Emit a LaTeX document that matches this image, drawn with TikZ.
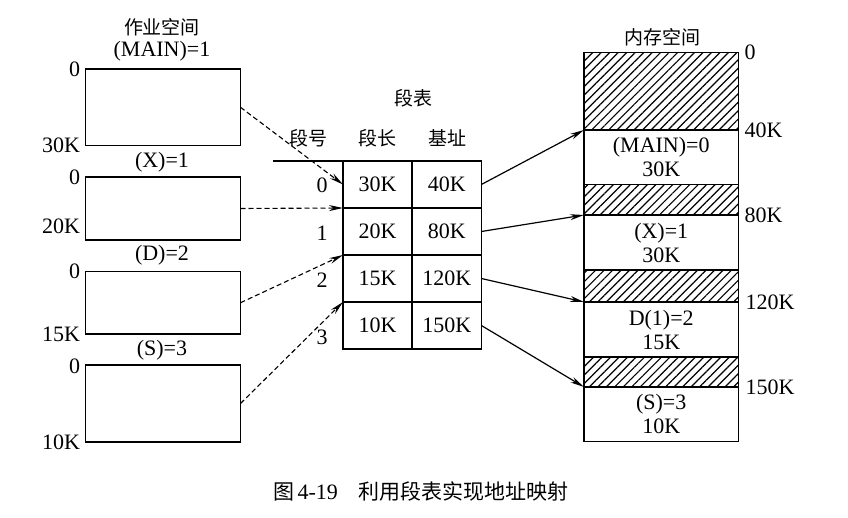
\documentclass[tikz,border=0pt]{standalone}
\usepackage{fontspec}
\setmainfont{Liberation Serif}
\newfontfamily\cjk{Noto Sans CJK SC}
\usetikzlibrary{arrows.meta,patterns.meta}
\begin{document}
\begin{tikzpicture}[x=0.5pt,y=-0.5pt,
  font=\fontsize{11}{12}\selectfont,
  every node/.style={inner sep=0pt, outer sep=0pt},
  cn/.style={font=\cjk\fontsize{9.5}{11}\selectfont},
  jobbox/.style={draw, line width=0.9pt, minimum width=77.5pt},
  cell/.style={draw, line width=0.9pt, minimum width=34.6pt, minimum height=23.5pt},
  memw/.style={draw, line width=0.9pt, minimum width=77.25pt, align=center, font=\fontsize{11}{12}\selectfont},
  memh/.style={draw, line width=0.9pt, minimum width=77.25pt,
     pattern={Lines[angle=45,distance=3.0pt,line width=0.6pt]}},
  dasharr/.style={line width=0.55pt, dash pattern=on 2.5pt off 1.5pt, -{Stealth[length=7pt,width=3pt]}},
  solarr/.style={line width=0.6pt, -{Stealth[length=7pt,width=3pt]}}
]
\useasboundingbox (0,0) rectangle (848,518);

% ---------- job space ----------
\node[cn] (t1) at (162,27) {作业空间};
\node (n1) at (162,51.5) {(MAIN)=1};
\node[jobbox, minimum height=38.25pt] (b1) at (163,107.3) {};
\node (n2) at (162,162) {(X)=1};
\node[jobbox, minimum height=31.5pt] (b2) at (163,208.5) {};
\node (n3) at (162,255) {(D)=2};
\node[jobbox, minimum height=31.25pt] (b3) at (163,302.75) {};
\node (n4) at (162,350) {(S)=3};
\node[jobbox, minimum height=38.5pt] (b4) at (163,403.5) {};

\node[anchor=east] (a1) at ([xshift=-2.75pt]b1.north west) {0};
\node[anchor=east] (z1) at ([xshift=-2.75pt]b1.south west) {30K};
\node[anchor=east] (a2) at ([xshift=-2.75pt]b2.north west) {0};
\node[anchor=east] (z2) at ([xshift=-2.75pt,yshift=7pt]b2.south west) {20K};
\node[anchor=east] (a3) at ([xshift=-2.75pt]b3.north west) {0};
\node[anchor=east] (z3) at ([xshift=-2.75pt]b3.south west) {15K};
\node[anchor=east] (a4) at ([xshift=-2.75pt,yshift=-0.8pt]b4.north west) {0};
\node[anchor=east] (z4) at ([xshift=-2.75pt]b4.south west) {10K};

% ---------- segment table ----------
\node[cn] (st) at (413,98) {段表};
\node[cn] (h0) at (308,138) {段号};
\node[cn] (h1) at (377.5,138) {段长};
\node[cn] (h2) at (447,138) {基址};

\node[cell] (c00) at (377.6,184.5) {30K};
\node[cell] (c01) at (446.8,184.5) {40K};
\node[cell] (c10) at (377.6,231.5) {20K};
\node[cell] (c11) at (446.8,231.5) {80K};
\node[cell] (c20) at (377.6,278.5) {15K};
\node[cell] (c21) at (446.8,278.5) {120K};
\node[cell] (c30) at (377.6,325.5) {10K};
\node[cell] (c31) at (446.8,325.5) {150K};

\node (r0) at (322,185) {0};
\node (r1) at (322,233) {1};
\node (r2) at (322,280) {2};
\node (r3) at (322,337) {3};

\coordinate (tl) at (273,161);
\draw[line width=0.6pt] (tl) -- (c00.north west);

% ---------- memory space ----------
\node[cn] (mt) at (662,37) {内存空间};
\node[memh, minimum height=38.75pt] (hh0) at (661.25,91.25) {};
\node[memw, minimum height=27.25pt] (m0) at (661.25,157.25) {(MAIN)=0\\30K};
\node[memh, minimum height=15.25pt] (hh1) at (661.25,199.75) {};
\node[memw, minimum height=27.5pt] (m1) at (661.25,242.5) {(X)=1\\30K};
\node[memh, minimum height=16pt] (hh2) at (661.25,286) {};
\node[memw, minimum height=27.5pt] (m2) at (661.25,329.5) {D(1)=2\\15K};
\node[memh, minimum height=15pt] (hh3) at (661.25,372) {};
\node[memw, minimum height=27.25pt] (m3) at (661.25,414.25) {(S)=3\\10K};

\node[anchor=west] (k0) at ([xshift=3pt]hh0.north east) {0};
\node[anchor=west] (k1) at ([xshift=3pt]m0.north east) {40K};
\node[anchor=west] (k2) at ([xshift=3pt]m1.north east) {80K};
\node[anchor=west] (k3) at ([xshift=3.5pt]m2.north east) {120K};
\node[anchor=west] (k4) at ([xshift=3.5pt]m3.north east) {150K};

% ---------- connectors ----------
\draw[dasharr] (b1.east) -- (c00.west);
\draw[dasharr] (b2.east) -- (c10.north west);
\draw[dasharr] (b3.east) -- (c20.north west);
\draw[dasharr] (b4.east) -- (c30.north west);

\draw[solarr] (c01.east) -- (m0.north west);
\draw[solarr] (c11.east) -- (m1.north west);
\draw[solarr] (c21.east) -- (m2.north west);
\draw[solarr] (c31.east) -- (m3.north west);

% ---------- caption ----------
\node (cap) at (421,492) {\cjk\fontsize{10.5}{12}\selectfont 图\,{\rmfamily\fontsize{11}{12}\selectfont 4-19}\quad 利用段表实现地址映射};
\end{tikzpicture}
\end{document}
